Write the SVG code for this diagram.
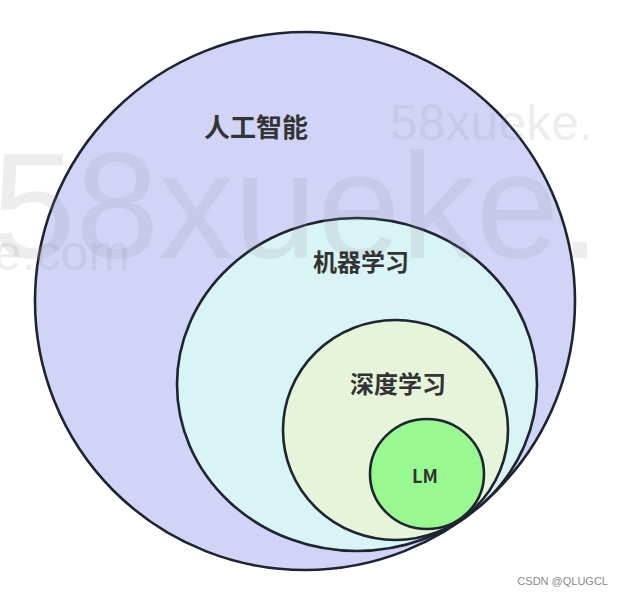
<svg xmlns="http://www.w3.org/2000/svg" width="618" height="596" viewBox="0 0 618 596">
  <style>
    .ring { stroke: #1e2530; stroke-width: 2.6; }
    .label { font-family: "Noto Sans CJK SC", "Noto Sans", sans-serif; font-weight: bold; fill: #333333; text-anchor: middle; }
    .wm { font-family: "Liberation Sans", Arial, sans-serif; fill: #8c8c9c; fill-opacity: 0.16; }
  </style>
  <rect x="0" y="0" width="618" height="596" fill="#ffffff"/>
  <g id="ai">
    <ellipse class="ring" cx="305" cy="301" rx="270" ry="269" fill="#d1d4f7"/>
  </g>
  <g id="ml">
    <ellipse class="ring" cx="357" cy="384.5" rx="180" ry="166.5" fill="#d9f4f4"/>
  </g>
  <g id="dl">
    <ellipse class="ring" cx="395.5" cy="430" rx="112.5" ry="110" fill="#e6f5da"/>
  </g>
  <g id="lm">
    <ellipse class="ring" cx="427" cy="474" rx="57" ry="55" fill="#98f990"/>
  </g>
  <g id="watermark">
    <text class="wm" x="-8" y="258" font-size="150">58xueke.</text>
    <text class="wm" x="390" y="140" font-size="50">58xueke.</text>
    <text class="wm" x="130" y="270" font-size="50" text-anchor="end">e.com</text>
  </g>
  <g id="labels">
    <text class="label" x="256" y="137" font-size="26">人工智能</text>
    <text class="label" x="361" y="271" font-size="24">机器学习</text>
    <text class="label" x="398" y="393" font-size="24">深度学习</text>
    <text class="label" x="425" y="483" font-size="18" font-family="'Open Sans', 'Noto Sans', sans-serif">LM</text>
  </g>
  <text x="608" y="585" font-family="'Liberation Sans', Arial, sans-serif" font-size="11" fill="#8a8a8a" text-anchor="end">CSDN @QLUGCL</text>
</svg>
